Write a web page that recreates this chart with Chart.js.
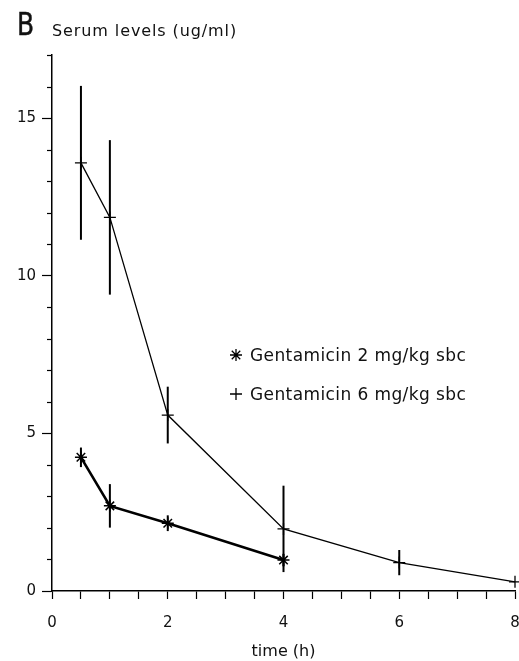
<!DOCTYPE html>
<html>
<head>
<meta charset="utf-8">
<script src="https://cdn.jsdelivr.net/npm/chart.js@4.4.0/dist/chart.umd.min.js"></script>
<style>
  html, body { margin: 0; padding: 0; background: #fff; }
  #wrap { width: 519px; height: 661px; }
</style>
</head>
<body>
<div id="wrap"><canvas id="serumChart" width="519" height="661"></canvas></div>
<script>
// Gentamicin serum levels (ug/ml), mean and SD per time point (h)
const time2mg = [0.5, 1, 2, 4];
const mean2mg = [4.24, 2.70, 2.15, 0.98];
const sd2mg   = [0.31, 0.69, 0.25, 0.2];

const time6mg = [0.5, 1, 2, 4, 6, 8];
const mean6mg = [13.58, 11.85, 5.58, 1.97, 0.90, 0.29];
const sd6mg   = [2.44, 2.45, 0.90, 1.37, 0.40, 0];

const seriesLabels = ['Gentamicin 2 mg/kg sbc', 'Gentamicin 6 mg/kg sbc'];
const xTickLabels = [0, 2, 4, 6, 8];
const yTickLabels = [0, 5, 10, 15];

const FONT = 'DejaVu Sans';
const INK = '#111';

Chart.defaults.font.family = FONT;
Chart.defaults.color = INK;

// vertical SD bars through each point
const errorBars = {
  id: 'errorBars',
  afterDatasetsDraw(chart) {
    const ctx = chart.ctx;
    const y = chart.scales.y;
    chart.data.datasets.forEach((ds, i) => {
      const meta = chart.getDatasetMeta(i);
      ctx.save();
      ctx.strokeStyle = '#000';
      ctx.lineWidth = 2;
      meta.data.forEach((pt, j) => {
        const m = ds.data[j].y, s = ds.errors[j];
        if (!s) return;
        ctx.beginPath();
        ctx.moveTo(pt.x, y.getPixelForValue(m + s));
        ctx.lineTo(pt.x, y.getPixelForValue(m - s));
        ctx.stroke();
      });
      ctx.restore();
    });
  }
};

// short minor ticks on the y axis (major ones come from the scale)
const minorTicks = {
  id: 'minorTicks',
  afterDraw(chart) {
    const ctx = chart.ctx;
    const y = chart.scales.y;
    const left = chart.chartArea.left;
    ctx.save();
    ctx.strokeStyle = '#000';
    ctx.lineWidth = 1.2;
    y.ticks.forEach(t => {
      if (yTickLabels.includes(t.value)) return;
      const py = Math.round(y.getPixelForValue(t.value)) + 0.5;
      ctx.beginPath();
      ctx.moveTo(left - 5, py);
      ctx.lineTo(left, py);
      ctx.stroke();
    });
    ctx.restore();
  }
};

// panel letter and y axis caption above the plot
const header = {
  id: 'header',
  afterDraw(chart) {
    const ctx = chart.ctx;
    ctx.save();
    ctx.fillStyle = INK;
    ctx.textBaseline = 'alphabetic';
    ctx.save();
    ctx.translate(17, 35);
    ctx.scale(0.78, 1);
    ctx.font = '32px ' + FONT;
    ctx.lineWidth = 0.5;
    ctx.strokeStyle = INK;
    ctx.fillText('B', 0, 0);
    ctx.strokeText('B', 0, 0);
    ctx.restore();
    ctx.font = '16px ' + FONT;
    ctx.letterSpacing = '0.9px';
    ctx.fillText('Serum levels (ug/ml)', chart.chartArea.left, 36);
    ctx.restore();
  }
};

// legend inside the plot area
const innerLegend = {
  id: 'innerLegend',
  afterDraw(chart) {
    const ctx = chart.ctx;
    const rows = [355, 394];
    ctx.save();
    chart.data.datasets.forEach((ds, i) => {
      const yMid = rows[i];
      ctx.strokeStyle = '#000';
      ctx.fillStyle = '#000';
      ctx.lineWidth = 1.3;
      Chart.helpers.drawPoint(ctx, {
        pointStyle: ds.pointStyle, radius: 6, rotation: 0, borderWidth: 1.3
      }, 236, yMid);
      ctx.fillStyle = INK;
      ctx.font = '17px ' + FONT;
      ctx.letterSpacing = '0.4px';
      ctx.textBaseline = 'middle';
      ctx.fillText(ds.label, 250, yMid + 2);
    });
    ctx.restore();
  }
};

new Chart(document.getElementById('serumChart'), {
  type: 'line',
  data: {
    datasets: [
      {
        label: seriesLabels[0],
        data: time2mg.map((t, i) => ({ x: t, y: mean2mg[i] })),
        errors: sd2mg,
        borderColor: '#000',
        borderWidth: 2.6,
        pointStyle: 'star',
        pointRadius: 6,
        pointBorderWidth: 1.5,
        pointBorderColor: '#000',
        pointBackgroundColor: '#000',
        tension: 0,
        fill: false,
        clip: false
      },
      {
        label: seriesLabels[1],
        data: time6mg.map((t, i) => ({ x: t, y: mean6mg[i] })),
        errors: sd6mg,
        borderColor: '#000',
        borderWidth: 1.3,
        pointStyle: 'cross',
        pointRadius: 6,
        pointBorderWidth: 1.3,
        pointBorderColor: '#000',
        tension: 0,
        fill: false,
        clip: false
      }
    ]
  },
  options: {
    responsive: false,
    animation: false,
    devicePixelRatio: 1,
    layout: { autoPadding: false, padding: { top: 55, right: 4, left: 0, bottom: 0 } },
    plugins: {
      legend: { display: false },
      tooltip: { enabled: false }
    },
    scales: {
      x: {
        type: 'linear',
        min: 0,
        max: 8,
        ticks: {
          stepSize: 0.5,
          autoSkip: false,
          maxRotation: 0,
          padding: 15,
          font: { size: 15 },
          color: INK,
          callback: v => xTickLabels.includes(v) ? String(v) : ''
        },
        grid: {
          drawOnChartArea: false,
          drawTicks: true,
          tickLength: 8,
          tickColor: '#000',
          tickWidth: 1.2
        },
        border: { color: '#000', width: 1.5 },
        title: {
          display: true,
          text: 'time (h)',
          font: { size: 16 },
          color: INK,
          padding: { top: 0, bottom: 0 }
        },
        afterFit: s => { s.height = 70; s.paddingLeft = 0; s.paddingRight = 0; }
      },
      y: {
        min: 0,
        max: 17,
        ticks: {
          stepSize: 1,
          autoSkip: false,
          padding: 6,
          font: { size: 15 },
          color: INK,
          callback: v => yTickLabels.includes(v) ? String(v) : ''
        },
        grid: {
          drawOnChartArea: false,
          drawTicks: true,
          tickLength: 10,
          tickWidth: 1.2,
          tickColor: c => yTickLabels.includes(c.tick && c.tick.value) ? '#000' : 'rgba(0,0,0,0)'
        },
        border: { color: '#000', width: 1.5 },
        afterFit: s => { s.width = 52; }
      }
    }
  },
  plugins: [errorBars, minorTicks, header, innerLegend]
});
</script>
</body>
</html>
